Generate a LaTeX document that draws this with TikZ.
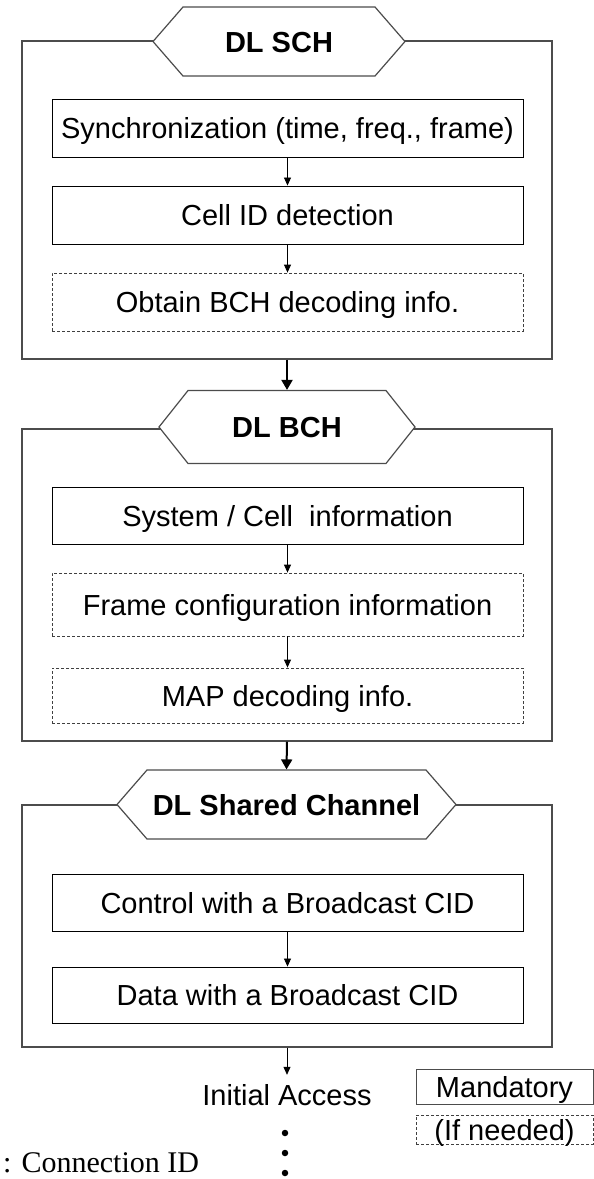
\documentclass[tikz,border=0pt]{standalone}
\usepackage{fontspec}
\setmainfont{Liberation Sans}
\newfontfamily\timesfont{Liberation Serif}
\usetikzlibrary{shapes.symbols}
\usetikzlibrary{arrows.meta}
\tikzset{
  chbox/.style={draw=black!70, line width=1.2pt, minimum width=530pt, inner sep=0pt},
  chname/.style={shape=signal, signal to=west and east, draw=black!70, line width=1.2pt,
    fill=white, font=\fontsize{29}{34}\selectfont\bfseries, inner sep=0pt,
    minimum height=69pt, text height=21pt, text depth=0pt},
  stepbox/.style={draw, line width=0.9pt, minimum width=471pt, inner sep=0pt,
    font=\fontsize{29}{34}\selectfont, text height=21pt, text depth=0pt},
  optbox/.style={stepbox, draw=black!75, dash pattern=on 3pt off 2pt, line width=0.8pt},
  thin arrow/.style={line width=0.8pt, -{Triangle[length=8pt,width=7pt]}},
  thick arrow/.style={line width=2pt, -{Triangle[length=10pt,width=11pt]}}
}

\begin{document}
\begin{tikzpicture}[x=1pt,y=-1pt]
\useasboundingbox (0,0) rectangle (594,1179);

% DL SCH
\node[chbox, minimum height=318pt] (schbox) at (287,200) {};
\node[chname, minimum width=252pt, signal pointer angle=98] (sch) at (279,41.5) {DL SCH};
\node[stepbox, minimum height=58pt] (sync) at (287.5,128) {Synchronization (time, freq., frame)};
\node[stepbox, minimum height=58pt] (cellid) at (287.5,215) {Cell ID detection};
\node[optbox, minimum height=58pt] (bchinfo) at (287.5,302) {Obtain BCH decoding info.};
\draw[thin arrow] (sync) -- (cellid);
\draw[thin arrow] (cellid) -- (bchinfo);

% DL BCH
\node[chbox, minimum height=312pt] (bchbox) at (287,585) {};
\node[chname, minimum width=256pt, minimum height=73pt, signal pointer angle=103] (bch) at (287,427) {DL BCH};
\node[stepbox, minimum height=57pt] (sysinfo) at (287.5,515.5) {System / Cell~~information};
\node[optbox, minimum height=63pt] (frameinfo) at (287.5,604.5) {Frame configuration information};
\node[optbox, minimum height=55pt] (mapinfo) at (287.5,695.5) {MAP decoding info.};
\draw[thin arrow] (sysinfo) -- (frameinfo);
\draw[thin arrow] (frameinfo) -- (mapinfo);

% DL Shared Channel
\node[chbox, minimum height=242pt] (shbox) at (287,926) {};
\node[chname, minimum width=339pt, signal pointer angle=98] (shared) at (286.5,804.5) {DL Shared Channel};
\node[stepbox, minimum height=57pt] (ctrl) at (287.5,902.5) {Control with a Broadcast CID};
\node[stepbox, minimum height=56pt] (data) at (287.5,995) {Data with a Broadcast CID};
\draw[thin arrow] (ctrl) -- (data);

\draw[thick arrow] (schbox.south) -- (bch.north);
\draw[thick arrow] (bchbox.south) -- (shared.north);

% initial access
\node[font=\fontsize{29}{34}\selectfont, inner sep=9pt, text height=21pt, text depth=0pt] (access) at (287,1094.5) {Initial Access};
\draw[thin arrow] (shbox.south) -- (access.north);
\foreach \i in {1,2,3}
  \node[circle, fill, inner sep=0pt, minimum size=6.5pt] (dot\i) at (285,1113+20*\i) {};

% legend
\node[stepbox, draw=black!70, minimum width=177pt, minimum height=35pt] (mand) at (504.5,1086.5) {Mandatory};
\node[optbox, minimum width=177pt, minimum height=29pt] (ifneed) at (504.5,1129.5) {(If needed)};
\node[font=\timesfont\fontsize{30}{35}\selectfont, anchor=base west, inner sep=0pt] (cidnote) at (3,1172) {: Connection ID};
\end{tikzpicture}
\end{document}
